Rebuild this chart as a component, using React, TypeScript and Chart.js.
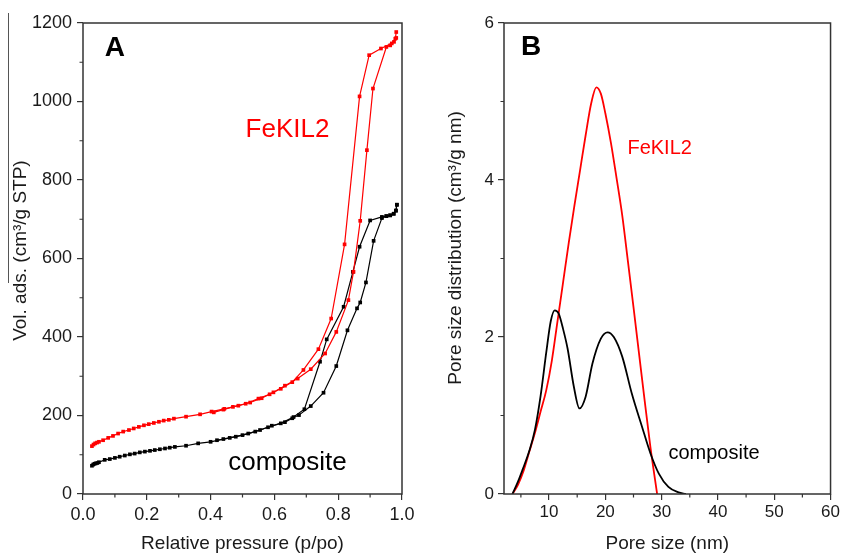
import React, { useEffect, useRef } from 'react';
import { Chart, registerables } from 'chart.js';

Chart.register(...registerables);

// ---------- Panel A: N2 isotherms ----------
const feAdsP = [0.028, 0.033, 0.038, 0.044, 0.05, 0.063, 0.079, 0.094, 0.11, 0.126, 0.144, 0.159, 0.175, 0.191, 0.206, 0.222, 0.238, 0.253, 0.269, 0.285, 0.323, 0.367, 0.403, 0.443, 0.487, 0.524, 0.56, 0.597, 0.633, 0.673, 0.714, 0.759, 0.794, 0.832, 0.848, 0.869, 0.89, 0.909, 0.951, 0.963, 0.975, 0.982];
const feAdsV = [122, 126, 129, 131, 133, 137, 143, 148, 154, 159, 163, 167, 171, 175, 178, 181, 184, 187, 189, 192, 197, 203, 210, 217, 225, 233, 244, 259, 276, 294, 318, 358, 413, 494, 566, 696, 876, 1033, 1139, 1143, 1152, 1162];
const feDesP = [0.982, 0.979, 0.968, 0.934, 0.897, 0.867, 0.82, 0.778, 0.738, 0.691, 0.656, 0.62, 0.585, 0.55, 0.51, 0.47, 0.44, 0.41];
const feDesV = [1177, 1160, 1148, 1135, 1118, 1013, 636, 447, 369, 316, 285, 268, 254, 243, 230, 222, 215, 208];

const compAdsP = [0.028, 0.032, 0.036, 0.04, 0.045, 0.05, 0.068, 0.084, 0.1, 0.115, 0.131, 0.147, 0.162, 0.178, 0.194, 0.21, 0.225, 0.241, 0.257, 0.272, 0.288, 0.323, 0.361, 0.4, 0.44, 0.479, 0.518, 0.555, 0.592, 0.633, 0.656, 0.677, 0.714, 0.754, 0.794, 0.829, 0.859, 0.869, 0.887, 0.911, 0.937, 0.951, 0.963, 0.974, 0.981, 0.984];
const compAdsV = [72, 75, 77, 78, 79, 81, 87, 89, 92, 95, 98, 101, 103, 106, 108, 110, 112, 114, 116, 118, 120, 123, 129, 133, 140, 146, 154, 163, 174, 183, 193, 201, 224, 258, 326, 417, 473, 488, 539, 645, 703, 708, 710, 714, 722, 737];
const compDesP = [0.984, 0.981, 0.974, 0.963, 0.951, 0.937, 0.9, 0.867, 0.846, 0.817, 0.764, 0.743, 0.694, 0.66, 0.62, 0.58, 0.54, 0.5, 0.46, 0.42];
const compDesV = [737, 722, 714, 710, 708, 706, 697, 630, 566, 477, 394, 337, 216, 196, 180, 170, 159, 150, 143, 137];

const aXTicks = [0, 0.2, 0.4, 0.6, 0.8, 1.0];
const aXMinor = [0.1, 0.3, 0.5, 0.7, 0.9];
const aYTicks = [0, 200, 400, 600, 800, 1000, 1200];
const aYMinor = [100, 300, 500, 700, 900, 1100];

// ---------- Panel B: pore size distribution ----------
const feSize = [3.5, 4.5, 5.5, 6.5, 7.5, 8.5, 9.5, 10.5, 11.5, 12.5, 13.5, 14.5, 15.5, 16.5, 17.5, 18.4, 19.2, 20, 21, 22, 23, 24, 25, 26, 27, 28, 29.2];
const feDist = [0, 0.12, 0.3, 0.54, 0.78, 1.05, 1.32, 1.7, 2.2, 2.7, 3.2, 3.67, 4.12, 4.57, 4.98, 5.18, 5.1, 4.85, 4.47, 4.02, 3.55, 2.97, 2.38, 1.78, 1.18, 0.6, 0];
const compSize = [3.5, 4.5, 5.3, 6.5, 7.5, 8.5, 9.5, 10.3, 11, 11.7, 12.5, 13.3, 14.4, 15.4, 16.5, 17.7, 19.2, 20.4, 21.5, 23, 24.7, 26.5, 28, 29.5, 31.2, 33, 34.3];
const compDist = [0, 0.16, 0.31, 0.55, 0.82, 1.25, 1.8, 2.2, 2.34, 2.3, 2.1, 1.85, 1.37, 1.09, 1.24, 1.66, 1.98, 2.06, 2.0, 1.75, 1.28, 0.86, 0.52, 0.26, 0.09, 0.02, 0];

const bXTicks = [10, 20, 30, 40, 50, 60];
const bXMinor = [5, 15, 25, 35, 45, 55];
const bYTicks = [0, 2, 4, 6];
const bYMinor = [1, 3, 5];

const FONT = '"Liberation Sans", Arial, Helvetica, sans-serif';
const AXIS = '#333333';
const RED = '#ff0000';
const BLACK = '#000000';

const pts = (xs: number[], ys: number[]) => xs.map((x, i) => ({ x, y: ys[i] }));

const decoPlugin = {
  id: 'deco',
  afterDraw(chart: any, _args: any, opts: any) {
    const { ctx, chartArea: a, scales } = chart;
    const xs = scales.x;
    const ys = scales.y;
    ctx.save();
    ctx.strokeStyle = AXIS;
    ctx.lineWidth = 1.5;
    ctx.strokeRect(a.left, a.top, a.right - a.left, a.bottom - a.top);
    ctx.lineWidth = 1.2;
    ctx.beginPath();
    for (const v of opts.xMinor) {
      const px = xs.getPixelForValue(v);
      ctx.moveTo(px, a.bottom);
      ctx.lineTo(px, a.bottom + 3.5);
    }
    for (const v of opts.yMinor) {
      const py = ys.getPixelForValue(v);
      ctx.moveTo(a.left, py);
      ctx.lineTo(a.left - 3.5, py);
    }
    ctx.stroke();
    if (opts.rule) {
      ctx.strokeStyle = '#555555';
      ctx.lineWidth = 1;
      ctx.beginPath();
      ctx.moveTo(opts.rule[0], opts.rule[1]);
      ctx.lineTo(opts.rule[0], opts.rule[2]);
      ctx.stroke();
    }
    for (const t of opts.labels) {
      ctx.font = t.font;
      ctx.fillStyle = t.color;
      ctx.textAlign = t.align;
      ctx.textBaseline = 'alphabetic';
      ctx.fillText(t.text, xs.getPixelForValue(t.x), ys.getPixelForValue(t.y));
    }
    ctx.restore();
  },
};

function makeScales(o: any) {
  return {
    x: {
      type: 'linear',
      min: o.xMin,
      max: o.xMax,
      afterBuildTicks: (s: any) => { s.ticks = o.xTicks.map((v: number) => ({ value: v })); },
      afterFit: (s: any) => { s.height = o.xHeight; },
      border: { display: false },
      grid: { display: true, drawOnChartArea: false, drawTicks: true, tickLength: 6, color: AXIS, lineWidth: 1.2 },
      ticks: {
        color: '#1a1a1a',
        padding: o.xPad,
        maxRotation: 0,
        autoSkip: false,
        font: { family: FONT, size: o.tickSize },
        callback: o.xFmt,
      },
      title: {
        display: true,
        text: o.xTitle,
        color: '#1a1a1a',
        font: { family: FONT, size: 19, lineHeight: 1 },
        padding: { top: 0, bottom: 0 },
      },
    },
    y: {
      type: 'linear',
      min: o.yMin,
      max: o.yMax,
      afterBuildTicks: (s: any) => { s.ticks = o.yTicks.map((v: number) => ({ value: v })); },
      afterFit: (s: any) => { s.width = o.yWidth; },
      border: { display: false },
      grid: { display: true, drawOnChartArea: false, drawTicks: true, tickLength: 6, color: AXIS, lineWidth: 1.2 },
      ticks: {
        color: '#1a1a1a',
        padding: o.yPad,
        autoSkip: false,
        font: { family: FONT, size: o.tickSize },
        callback: (v: any) => String(v),
      },
      title: {
        display: true,
        text: o.yTitle,
        color: '#1a1a1a',
        font: { family: FONT, size: 19, lineHeight: 1 },
        padding: { top: o.yTitlePad, bottom: 0 },
      },
    },
  };
}

export default function App() {
  const refA = useRef<HTMLCanvasElement | null>(null);
  const refB = useRef<HTMLCanvasElement | null>(null);

  useEffect(() => {
    const isoStyle = (color: string) => ({
      showLine: true,
      borderColor: color,
      backgroundColor: color,
      borderWidth: 1.2,
      pointStyle: 'rect',
      pointRadius: 2.6,
      pointBorderWidth: 0,
      pointBackgroundColor: color,
      tension: 0,
    });

    const chartA = new Chart(refA.current as HTMLCanvasElement, {
      type: 'scatter',
      data: {
        datasets: [
          { label: 'FeKIL2 adsorption', data: pts(feAdsP, feAdsV), ...isoStyle(RED) },
          { label: 'FeKIL2 desorption', data: pts(feDesP, feDesV), ...isoStyle(RED) },
          { label: 'composite adsorption', data: pts(compAdsP, compAdsV), ...isoStyle(BLACK) },
          { label: 'composite desorption', data: pts(compDesP, compDesV), ...isoStyle(BLACK) },
        ],
      } as any,
      options: {
        responsive: false,
        animation: false,
        events: [],
        layout: { padding: { top: 23, right: 18, left: 0, bottom: 0 } },
        scales: makeScales({
          xMin: 0, xMax: 1, yMin: 0, yMax: 1200,
          xTicks: aXTicks, yTicks: aYTicks,
          xHeight: 59, yWidth: 83, xPad: 4, yPad: 5, tickSize: 18,
          xFmt: (v: any) => Number(v).toFixed(1),
          xTitle: 'Relative pressure (p/po)',
          yTitle: '   Vol. ads. (cm³/g STP)',
          yTitlePad: 11.5,
        }) as any,
        plugins: {
          legend: { display: false },
          tooltip: { enabled: false },
          deco: {
            xMinor: aXMinor,
            yMinor: aYMinor,
            rule: [8.5, 13, 283],
            labels: [
              { text: 'A', x: 0.068, y: 1117, font: `bold 28px ${FONT}`, color: '#000', align: 'left' },
              { text: 'FeKIL2', x: 0.641, y: 909, font: `26px ${FONT}`, color: RED, align: 'center' },
              { text: 'composite', x: 0.641, y: 61, font: `26px ${FONT}`, color: '#000', align: 'center' },
            ],
          },
        } as any,
      },
      plugins: [decoPlugin],
    });

    const curveStyle = (color: string) => ({
      showLine: true,
      borderColor: color,
      backgroundColor: color,
      borderWidth: 1.8,
      pointRadius: 0,
      cubicInterpolationMode: 'monotone',
    });

    const chartB = new Chart(refB.current as HTMLCanvasElement, {
      type: 'scatter',
      data: {
        datasets: [
          { label: 'composite', data: pts(compSize, compDist), ...curveStyle(BLACK) },
          { label: 'FeKIL2', data: pts(feSize, feDist), ...curveStyle(RED) },
        ],
      } as any,
      options: {
        responsive: false,
        animation: false,
        events: [],
        layout: { padding: { top: 23, right: 9, left: 0, bottom: 0 } },
        scales: makeScales({
          xMin: 2, xMax: 60, yMin: 0, yMax: 6,
          xTicks: bXTicks, yTicks: bYTicks,
          xHeight: 59, yWidth: 84, xPad: 2, yPad: 4, tickSize: 17,
          xFmt: (v: any) => String(v),
          xTitle: 'Pore size (nm)',
          yTitle: '    Pore size distribution (cm³/g nm)',
          yTitlePad: 26.5,
        }) as any,
        plugins: {
          legend: { display: false },
          tooltip: { enabled: false },
          deco: {
            xMinor: bXMinor,
            yMinor: bYMinor,
            labels: [
              { text: 'B', x: 5.04, y: 5.59, font: `bold 28px ${FONT}`, color: '#000', align: 'left' },
              { text: 'FeKIL2', x: 29.65, y: 4.33, font: `20px ${FONT}`, color: RED, align: 'center' },
              { text: 'composite', x: 39.3, y: 0.45, font: `20px ${FONT}`, color: '#000', align: 'center' },
            ],
          },
        } as any,
      },
      plugins: [decoPlugin],
    });

    return () => {
      chartA.destroy();
      chartB.destroy();
    };
  }, []);

  return (
    <div style={{ position: 'absolute', left: 0, top: 0, width: 842, height: 553, background: '#ffffff', overflow: 'hidden' }}>
      <canvas ref={refA} width={420} height={553} style={{ position: 'absolute', left: 0, top: 0, width: 420, height: 553 }} />
      <canvas ref={refB} width={422} height={553} style={{ position: 'absolute', left: 420, top: 0, width: 422, height: 553 }} />
    </div>
  );
}
